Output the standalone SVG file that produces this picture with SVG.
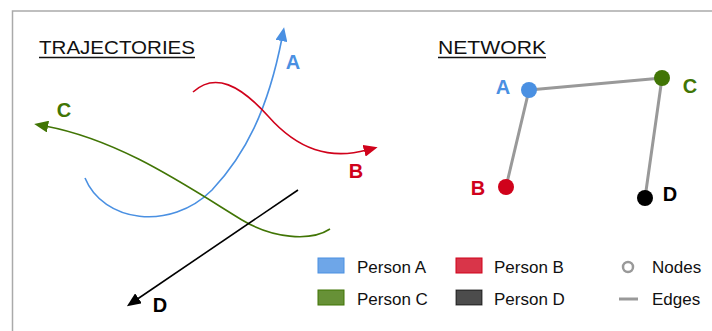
<svg xmlns="http://www.w3.org/2000/svg" width="712" height="331" viewBox="0 0 712 331">
<defs>
<style>
text{font-family:"Liberation Sans","DejaVu Sans",Arial,sans-serif}
.title{font-size:19px;fill:#111}
.lbl{font-size:20px;font-weight:bold;text-anchor:middle}
.leg{font-size:17px;fill:#111}
.traj{fill:none;stroke-width:1.6}
.edge{stroke:#999;stroke-width:3;stroke-linecap:round}
</style>
<marker id="mA" viewBox="0 0 14 12" refX="3" refY="6" markerWidth="14" markerHeight="12" orient="auto" markerUnits="userSpaceOnUse"><path d="M0,0 L14,6 L0,12 Z" fill="#4a90e2"/></marker>
<marker id="mB" viewBox="0 0 14 12" refX="3" refY="6" markerWidth="14" markerHeight="12" orient="auto" markerUnits="userSpaceOnUse"><path d="M0,0 L14,6 L0,12 Z" fill="#d0021b"/></marker>
<marker id="mC" viewBox="0 0 14 12" refX="3" refY="6" markerWidth="14" markerHeight="12" orient="auto" markerUnits="userSpaceOnUse"><path d="M0,0 L14,6 L0,12 Z" fill="#417505"/></marker>
<marker id="mD" viewBox="0 0 14 12" refX="3" refY="6" markerWidth="14" markerHeight="12" orient="auto" markerUnits="userSpaceOnUse"><path d="M0,0 L14,6 L0,12 Z" fill="#000"/></marker>
</defs>
<rect width="712" height="331" fill="#fff"/>
<rect x="12.5" y="11" width="720" height="340" fill="none" stroke="#aaa" stroke-width="1.5"/>

<g id="titles">
<text class="title" x="39" y="54" textLength="156" lengthAdjust="spacingAndGlyphs">TRAJECTORIES</text>
<line x1="39" y1="57.5" x2="195" y2="57.5" stroke="#111" stroke-width="1.3"/>
<text class="title" x="438" y="54" textLength="108" lengthAdjust="spacingAndGlyphs">NETWORK</text>
<line x1="438" y1="57.5" x2="546" y2="57.5" stroke="#111" stroke-width="1.3"/>
</g>

<g id="trajectories">
<path id="trajA" class="traj" stroke="#4a90e2" d="M85,178 C103,222 170,232 212,190 C245,155 268,110 282,38" marker-end="url(#mA)"/>
<path id="trajB" class="traj" stroke="#d0021b" d="M193,92 C215,72 240,85 268,116 C298,150 330,160 367,150" marker-end="url(#mB)"/>
<path id="trajC" class="traj" stroke="#417505" d="M330,229 C310,242 272,238 242,220 C185,185 120,140 45,126" marker-end="url(#mC)"/>
<path id="trajD" class="traj" stroke="#000" d="M298,190 L136,300" marker-end="url(#mD)"/>
<text class="lbl" x="293" y="69" fill="#4a90e2">A</text>
<text class="lbl" x="356" y="178" fill="#d0021b">B</text>
<text class="lbl" x="64" y="117" fill="#417505">C</text>
<text class="lbl" x="160" y="312" fill="#000">D</text>
</g>

<g id="connectors">
<line class="edge" x1="529" y1="90" x2="662" y2="78"/>
<line class="edge" x1="529" y1="90" x2="506" y2="187"/>
<line class="edge" x1="662" y1="78" x2="645" y2="198"/>
</g>
<g id="nodeA"><circle cx="529" cy="90" r="8" fill="#4a90e2"/><text class="lbl" x="503" y="94" fill="#4a90e2">A</text></g>
<g id="nodeB"><circle cx="506" cy="187" r="8" fill="#d0021b"/><text class="lbl" x="478" y="195" fill="#d0021b">B</text></g>
<g id="nodeC"><circle cx="662" cy="78" r="8" fill="#417505"/><text class="lbl" x="690" y="93" fill="#417505">C</text></g>
<g id="nodeD"><circle cx="645" cy="198" r="8" fill="#000"/><text class="lbl" x="670" y="201" fill="#000">D</text></g>

<g id="legend">
<rect x="318" y="258" width="26" height="15" fill="#4a90e2" fill-opacity="0.8" stroke="#4a90e2"/>
<text class="leg" x="357" y="273">Person A</text>
<rect x="456" y="258" width="26" height="15" fill="#d0021b" fill-opacity="0.8" stroke="#d0021b"/>
<text class="leg" x="494" y="273">Person B</text>
<circle cx="628" cy="267" r="5" fill="none" stroke="#999" stroke-width="2.5"/>
<text class="leg" x="652" y="273">Nodes</text>
<rect x="318" y="290" width="26" height="15" fill="#417505" fill-opacity="0.8" stroke="#417505"/>
<text class="leg" x="357" y="305">Person C</text>
<rect x="456" y="290" width="26" height="15" fill="#000" fill-opacity="0.7" stroke="#000" stroke-opacity="0.7"/>
<text class="leg" x="494" y="305">Person D</text>
<line x1="619" y1="299" x2="638" y2="299" stroke="#999" stroke-width="3"/>
<text class="leg" x="652" y="305">Edges</text>
</g>
</svg>
